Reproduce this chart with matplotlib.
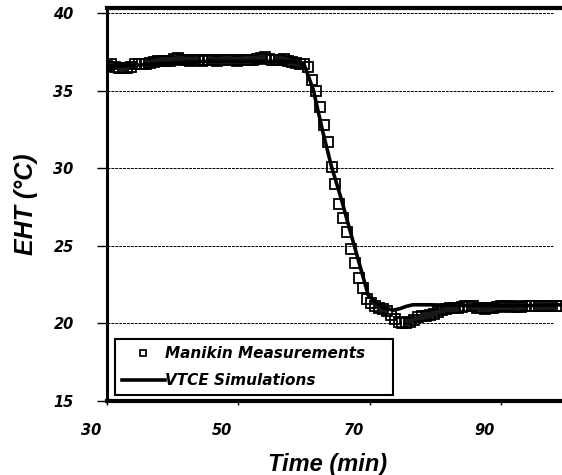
import matplotlib
matplotlib.use("Agg")
import matplotlib.pyplot as plt
import matplotlib.transforms as mtransforms

# manikin measurements (min, degC)
meas_time = [30.0, 30.6, 31.2, 31.8, 32.4, 33.0, 33.6, 34.2, 34.8, 35.4,
             36.0, 36.6, 37.2, 37.8, 38.4, 39.0, 39.6, 40.2, 40.8, 41.4,
             42.0, 42.6, 43.2, 43.8, 44.4, 45.0, 45.6, 46.2, 46.8, 47.4,
             48.0, 48.6, 49.2, 49.8, 50.4, 51.0, 51.6, 52.2, 52.8, 53.4,
             54.0, 54.6, 55.2, 55.8, 56.4, 57.0, 57.6, 58.2, 58.8, 59.4,
             60.0, 60.6, 61.2, 61.8, 62.4, 63.0, 63.6, 64.2, 64.8, 65.4,
             66.0, 66.6, 67.2, 67.8, 68.4, 69.0, 69.6, 70.2, 70.8, 71.4,
             72.0, 72.6, 73.2, 73.8, 74.4, 75.0, 75.6, 76.2, 76.8, 77.4,
             78.0, 78.6, 79.2, 79.8, 80.4, 81.0, 81.6, 82.2, 82.8, 83.4,
             84.0, 84.6, 85.2, 85.8, 86.4, 87.0, 87.6, 88.2, 88.8, 89.4,
             90.0, 90.6, 91.2, 91.8, 92.4, 93.0, 93.6, 94.2, 94.8, 95.4,
             96.0, 96.6, 97.2, 97.8, 98.4, 99.0]
meas_eht = [36.6, 36.7, 36.55, 36.5, 36.5, 36.5, 36.55, 36.7, 36.7, 36.75,
            36.75, 36.8, 36.85, 36.9, 36.9, 36.9, 36.95, 37.05, 37.1, 37.0,
            37.0, 36.95, 37.0, 37.0, 36.95, 37.0, 37.0, 37.0, 36.95, 37.0,
            37.0, 37.0, 37.0, 36.95, 37.0, 37.0, 37.0, 37.0, 37.05, 37.1,
            37.2, 37.05, 37.0, 37.0, 37.0, 37.05, 36.9, 36.85, 36.8, 36.75,
            36.7, 36.55, 35.7, 35.0, 33.95, 32.8, 31.7, 30.1, 29.0, 27.7,
            26.8, 25.9, 24.8, 23.9, 22.9, 22.3, 21.6, 21.3, 21.1, 21.0,
            20.9, 20.8, 20.55, 20.3, 20.1, 20.0, 20.0, 20.1, 20.2, 20.4,
            20.5, 20.5, 20.55, 20.6, 20.75, 20.85, 20.9, 21.0, 21.0, 21.0,
            21.05, 21.15, 21.15, 21.1, 21.0, 21.0, 20.95, 21.0, 21.0, 21.05,
            21.1, 21.1, 21.05, 21.1, 21.05, 21.05, 21.1, 21.1, 21.1, 21.1,
            21.1, 21.1, 21.1, 21.1, 21.1, 21.1]

# VTCE simulation
sim_time = [30, 33, 36, 40, 45, 50, 55, 58, 59.5, 60.1, 61.4, 62.9, 64.2,
            65.7, 67.2, 68.5, 69.8, 71.0, 72.3, 73.6, 74.6, 75.6, 76.6,
            79, 85, 90, 95, 99.3]
sim_eht = [36.6, 36.6, 36.7, 36.8, 36.9, 36.9, 36.9, 36.9, 36.8, 36.6,
           35.1, 32.3, 30.1, 28.0, 25.7, 23.75, 21.8, 21.3, 21.0, 20.85,
           20.95, 21.1, 21.2, 21.2, 21.15, 21.15, 21.15, 21.2]

xticks = [30, 50, 70, 90]
yticks = [15, 20, 25, 30, 35, 40]
grid_y = [20, 25, 30, 35, 40]

plt.rcParams['font.family'] = 'DejaVu Sans'
plt.rcParams['font.weight'] = 'bold'
plt.rcParams['font.style'] = 'italic'

fig = plt.figure(figsize=(5.62, 4.75), dpi=100)
ax = fig.add_axes([0.1904, 0.156, 0.8096, 0.8265])

# dashed grid lines stop a bit short of the right edge
ax.hlines(grid_y, 30, 98.0, colors='k', linestyles=(0, (3, 1)), linewidth=0.7, zorder=1)

ax.plot(meas_time, meas_eht, 's', markersize=7.5, markerfacecolor='none',
        markeredgecolor='k', markeredgewidth=1.3, label='Manikin Measurements', zorder=3)
ax.plot(sim_time, sim_eht, '-', color='k', linewidth=2.6, label='VTCE Simulations', zorder=2)

ax.set_xlim(30, 99.3)
ax.set_ylim(15, 40.32)
ax.set_xticks(xticks)
ax.set_yticks(yticks)

ax.spines['right'].set_visible(False)
ax.spines['left'].set_linewidth(2.2)
ax.spines['top'].set_linewidth(3.0)
ax.spines['bottom'].set_linewidth(3.0)

ax.tick_params(axis='y', direction='out', length=7, width=1, pad=17, labelsize=10.5)
ax.tick_params(axis='x', direction='out', length=3, width=1, pad=13, labelsize=10.5)

# shift the x labels left of their ticks
offset = mtransforms.ScaledTranslation(-16 / 100, 0, fig.dpi_scale_trans)
for lbl in ax.get_xticklabels():
    lbl.set_transform(lbl.get_transform() + offset)

leg = ax.legend(loc='lower left', bbox_to_anchor=(0.0176, 0.015, 0.611, 0.153),
                mode='expand', fontsize=11, frameon=True, fancybox=False,
                edgecolor='k', framealpha=1, handlelength=2.8, handletextpad=0.0,
                markerscale=0.6, borderpad=0.45, labelspacing=0.8, borderaxespad=0)
leg.get_frame().set_linewidth(1.5)

fig.text(0.582, 0.023, 'Time (min)', ha='center', va='center', fontsize=17,
         family='Liberation Sans')
fig.text(0.046, 0.57, 'EHT (°C)', ha='center', va='center', rotation=90, fontsize=18,
         family='Liberation Sans')

fig.savefig('out.png', dpi=100)
